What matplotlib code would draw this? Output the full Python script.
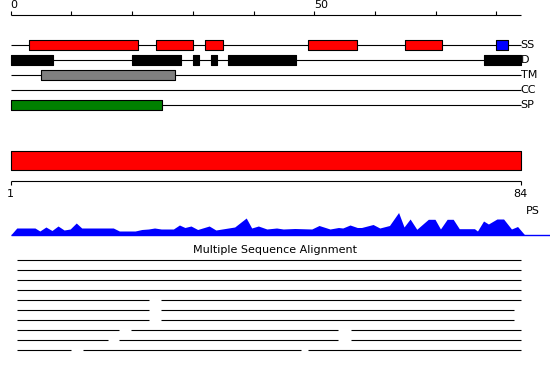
import matplotlib
matplotlib.use("Agg")
import matplotlib.pyplot as plt

# sequence length and feature tracks (residue positions)
seq_len = 84
track_names = ["SS", "D", "TM", "CC", "SP"]
ss_red = [(3, 21), (24, 30), (32, 35), (49, 57), (65, 71)]
ss_blue = [(80, 82)]
d_spans = [(0, 7), (20, 28), (30, 31), (33, 34), (35.8, 47), (78, 84)]
tm_spans = [(5, 27)]
cc_spans = []
sp_spans = [(0, 25)]

top_ticks = [0, 10, 20, 30, 40, 50, 60, 70, 80]
top_labels = {0: "0", 50: "50"}

# PS profile (position, height)
ps_x = [0, 1.0, 4.0, 4.8, 5.8, 6.8, 7.8, 8.8, 9.8, 10.8, 11.7, 16.9, 17.9, 20.5,
        21.6, 22.7, 23.7, 24.8, 26.8, 27.8, 28.7, 29.7, 30.8, 32.7, 33.8, 36.9,
        38.8, 39.7, 40.8, 42.2, 43.8, 44.9, 46.8, 49.6, 50.8, 52.6, 54.0, 54.7,
        55.9, 57.1, 57.8, 59.7, 60.8, 62.4, 63.9, 64.8, 65.8, 66.9, 68.8, 69.9,
        70.8, 71.9, 72.9, 73.9, 76.4, 76.9, 77.9, 78.7, 80.1, 81.2, 82.5, 83.5, 84.7]
ps_h = [0, 7, 7, 4, 8, 4.5, 9, 5, 6, 12, 7, 7, 4, 4,
        5.5, 6, 7, 6, 6, 10, 7.5, 9, 5.5, 9, 5, 8,
        17, 7, 9, 6, 7, 6, 6.5, 6, 9.5, 6, 7.5, 7,
        10, 7.5, 7.5, 10.5, 7, 9.5, 22.5, 8, 16, 5.7, 15.7, 15.7,
        6, 15.7, 15.7, 6.3, 6.3, 4, 14, 11, 16, 16, 6, 8.5, 0]

# multiple sequence alignment rows: segments (start, end)
msa_rows = [
    [(1, 84)],
    [(1, 84)],
    [(1, 84)],
    [(1, 84)],
    [(1, 22.8), (24.8, 84)],
    [(1, 22.8), (24.8, 82.9)],
    [(1, 22.8), (24.8, 82.9)],
    [(1, 17.9), (19.9, 53.9), (56.1, 84)],
    [(1, 16.0), (17.9, 53.9), (56.1, 84)],
    [(1, 9.9), (11.9, 47.9), (48.9, 84)],
]

px_per_res = 6.07
left_px = 10.7
W, H = 550, 380

fig = plt.figure(figsize=(5.5, 3.8), dpi=100)
ax = fig.add_axes([0, 0, 1, 1])
ax.set_xlim(-left_px / px_per_res, (W - left_px) / px_per_res)
ax.set_ylim(H, 0)
ax.axis("off")

lw = 0.8
fs = 8

# top ruler
ax.hlines(15, 0, seq_len, color="black", lw=lw)
ax.vlines(top_ticks, 11, 15, color="black", lw=lw)
for t, lab in top_labels.items():
    ax.text(t, 10, lab, ha="left", va="bottom", fontsize=fs)

# feature tracks
track_y = [45, 60, 75, 90, 105]
track_data = [[(ss_red, "red"), (ss_blue, "blue")],
              [(d_spans, "black")],
              [(tm_spans, "gray")],
              [(cc_spans, "white")],
              [(sp_spans, "green")]]
for name, y, parts in zip(track_names, track_y, track_data):
    ax.hlines(y, 0, seq_len, color="black", lw=lw, zorder=1)
    for spans, col in parts:
        if spans:
            ax.broken_barh([(a, b - a) for a, b in spans], (y - 5, 10),
                           facecolors=col, edgecolors="black", linewidth=lw, zorder=2)
    ax.text(seq_len, y, name, ha="left", va="center", fontsize=fs)

# full-length bar
ax.broken_barh([(0, seq_len)], (150.7, 19.6), facecolors="red",
               edgecolors="black", linewidth=lw)

# second ruler 1..84
ax.hlines(180.7, 0, seq_len, color="black", lw=lw)
ax.vlines([0, seq_len], 180.7, 185, color="black", lw=lw)
ax.text(0, 189, "1", ha="center", va="top", fontsize=fs)
ax.text(seq_len, 189, str(seq_len), ha="center", va="top", fontsize=fs)

# PS profile
base = 235
ax.fill_between(ps_x, base, [base - h for h in ps_h], color="blue", lw=0)
ax.hlines(base, 0, (W - left_px) / px_per_res, color="blue", lw=1)
ax.text(84.8, 211, "PS", ha="left", va="center", fontsize=fs)

# alignment
ax.text(43.5, 250, "Multiple Sequence Alignment", ha="center", va="center", fontsize=fs)
for i, segs in enumerate(msa_rows):
    y = 260 + 10 * i
    for a, b in segs:
        ax.hlines(y, a, b, color="black", lw=lw)

fig.savefig("out.png", dpi=100)
